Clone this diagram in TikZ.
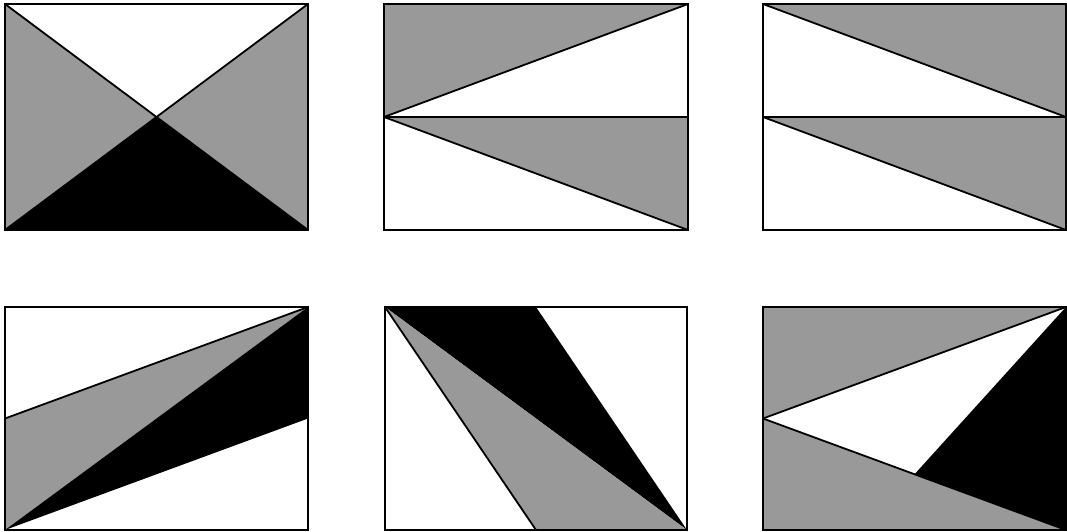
\documentclass[tikz,border=0pt]{standalone}
\usetikzlibrary{calc}
\definecolor{midgray}{RGB}{153,153,153}
\begin{document}
\begin{tikzpicture}[x=1pt,y=-1pt,line width=1.8pt,line join=miter]
\tikzset{
  edge/.style={draw=black,line width=1.8pt},
  frame/.style={draw=black,line width=2pt}
}
\useasboundingbox (0,0) rectangle (1067,532);
\newcommand{\panelcoords}[4]{%
  \coordinate (TL) at (#1,#2); \coordinate (TR) at (#3,#2);
  \coordinate (BL) at (#1,#4); \coordinate (BR) at (#3,#4);
  \coordinate (ML) at (#1,{(#2+#4)/2}); \coordinate (MR) at (#3,{(#2+#4)/2});
  \coordinate (TM) at ({(#1+#3)/2},#2); \coordinate (BM) at ({(#1+#3)/2},#4);
  \coordinate (C) at ({(#1+#3)/2},{(#2+#4)/2});}
% Panel 1
\begin{scope}
\panelcoords{5}{4}{308}{230}
\fill[midgray] (TL) -- (C) -- (BL) -- cycle;
\fill[midgray] (TR) -- (C) -- (BR) -- cycle;
\fill[black] (BL) -- (C) -- (BR) -- cycle;
\draw[edge] (TL) -- (BR);
\draw[edge] (TR) -- (BL);
\draw[frame] (TL) rectangle (BR);
\end{scope}
% Panel 2
\begin{scope}
\panelcoords{384}{4}{688}{230}
\fill[midgray] (TL) -- (TR) -- (ML) -- cycle;
\fill[midgray] (ML) -- (MR) -- (BR) -- cycle;
\draw[edge] (ML) -- (TR);
\draw[edge] (ML) -- (MR);
\draw[edge] (ML) -- (BR);
\draw[frame] (TL) rectangle (BR);
\end{scope}
% Panel 3
\begin{scope}
\panelcoords{763}{4}{1066}{230}
\fill[midgray] (TL) -- (TR) -- (MR) -- cycle;
\fill[midgray] (ML) -- (MR) -- (BR) -- cycle;
\draw[edge] (TL) -- (MR);
\draw[edge] (ML) -- (MR);
\draw[edge] (ML) -- (BR);
\draw[frame] (TL) rectangle (BR);
\end{scope}
% Panel 4
\begin{scope}
\panelcoords{5}{307}{308}{530}
\fill[midgray] (ML) -- (TR) -- (BL) -- cycle;
\fill[black] (BL) -- (TR) -- (MR) -- cycle;
\draw[edge] (ML) -- (TR);
\draw[frame] (TL) rectangle (BR);
\end{scope}
% Panel 5
\begin{scope}
\panelcoords{385}{307}{687}{530}
\fill[black] (TL) -- (TM) -- (BR) -- cycle;
\fill[midgray] (TL) -- (BR) -- (BM) -- cycle;
\draw[edge] (TL) -- (BM);
\draw[frame] (TL) rectangle (BR);
\end{scope}
% Panel 6
\begin{scope}
\panelcoords{763}{307}{1066}{530}
\coordinate (P) at ($(ML)!0.5!(BR)$);
\fill[midgray] (TL) -- (TR) -- (ML) -- cycle;
\fill[midgray] (ML) -- (BR) -- (BL) -- cycle;
\fill[black] (TR) -- (P) -- (BR) -- cycle;
\draw[edge] (ML) -- (TR);
\draw[edge] (ML) -- (BR);
\draw[frame] (TL) rectangle (BR);
\end{scope}
\end{tikzpicture}
\end{document}
